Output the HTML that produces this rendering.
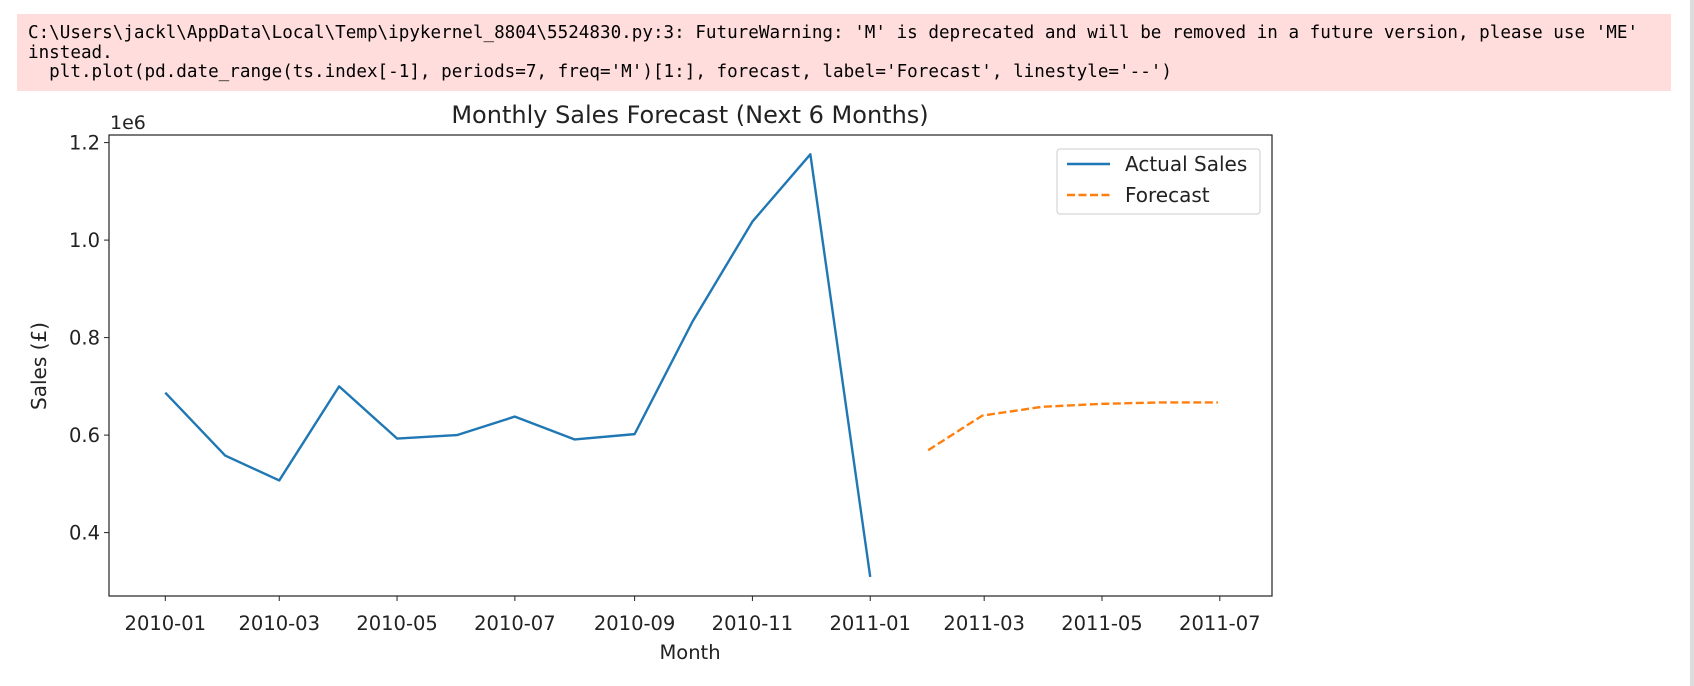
<!DOCTYPE html>
<html><head><meta charset="utf-8"><style>
body{margin:0;background:#fff;width:1694px;height:686px;overflow:hidden;position:relative;font-family:"DejaVu Sans","Liberation Sans",sans-serif}
#warn{position:absolute;left:17px;top:14px;width:1654px;height:77px;background:#fdd;font-family:"DejaVu Sans Mono","Liberation Mono",monospace;font-size:17.6px;line-height:19.5px;color:#000;padding:10px 11px 0 11px;box-sizing:border-box;white-space:pre;overflow:hidden}
#sb{position:absolute;left:1690px;top:0;width:4px;height:686px;background:#ddd}
svg{position:absolute;left:0;top:0}
</style></head><body>
<div id="warn">C:\Users\jackl\AppData\Local\Temp\ipykernel_8804\5524830.py:3: FutureWarning: 'M' is deprecated and will be removed in a future version, please use 'ME'
instead.
  plt.plot(pd.date_range(ts.index[-1], periods=7, freq='M')[1:], forecast, label='Forecast', linestyle='--')</div>
<div id="sb"></div>
<svg id="chart" width="1694" height="686"></svg>
<script>
const actualDates=["2010-01-01","2010-02-01","2010-03-01","2010-04-01","2010-05-01","2010-06-01","2010-07-01","2010-08-01","2010-09-01","2010-10-01","2010-11-01","2010-12-01","2011-01-01"];
const actualValues=[0.687,0.558,0.507,0.700,0.593,0.600,0.638,0.591,0.602,0.833,1.038,1.176,0.309];
const forecastDates=["2011-01-31","2011-02-28","2011-03-31","2011-04-30","2011-05-31","2011-06-30"];
const forecastValues=[0.569,0.640,0.658,0.664,0.667,0.667];
const yTicks=[0.4,0.6,0.8,1.0,1.2];
const xTicks=["2010-01","2010-03","2010-05","2010-07","2010-09","2010-11","2011-01","2011-03","2011-05","2011-07"];

const NS="http://www.w3.org/2000/svg";
const svg=document.getElementById('chart');
const L=109,R=1272,T=135,B=596;
const d0=Date.UTC(2010,0,1),d1=Date.UTC(2011,6,1);
function day(s){const p=s.split('-');return Date.UTC(+p[0],+p[1]-1,p[2]?+p[2]:1);}
function xs(s){return 165.3+(day(s)-d0)/(d1-d0)*(1219.8-165.3);}
function ys(v){return 142.6+(1.2-v)/0.2*97.5;}
function el(t,a,txt){const e=document.createElementNS(NS,t);for(const k in a)e.setAttribute(k,a[k]);if(txt!=null)e.textContent=txt;svg.appendChild(e);return e;}

let e=el('text',{x:690,y:123,'text-anchor':'middle','font-size':24,fill:'#222'},'Monthly Sales Forecast (Next 6 Months)');


e=el('text',{x:110,y:129,'font-size':19,fill:'#222'},'1e6');



yTicks.forEach(v=>{const y=ys(v);
 let t=el('line',{x1:L-5,x2:L,y1:y,y2:y,stroke:'#222','stroke-width':1});
 
 
 let l=el('text',{x:L-9,y:y+7,'text-anchor':'end','font-size':19.5,fill:'#222'},v.toFixed(1));
 
 
});
xTicks.forEach(s=>{const x=xs(s);
 let t=el('line',{x1:x,x2:x,y1:B,y2:B+5,stroke:'#222','stroke-width':1});
 
 
 let l=el('text',{x:x,y:630,'text-anchor':'middle','font-size':19.5,fill:'#222'},s);
 
 
});
e=el('text',{x:690,y:659,'text-anchor':'middle','font-size':19.5,fill:'#222'},'Month');


e=el('text',{x:0,y:0,'text-anchor':'middle','font-size':20,fill:'#222',transform:'translate(46,366) rotate(-90)'},'Sales (£)');



e=el('polyline',{points:actualDates.map((d,i)=>xs(d)+','+ys(actualValues[i])).join(' '),fill:'none',stroke:'#1f77b4','stroke-width':2.4,'stroke-linejoin':'round'});


e=el('polyline',{points:forecastDates.map((d,i)=>xs(d)+','+ys(forecastValues[i])).join(' '),fill:'none',stroke:'#ff7f0e','stroke-width':2.4,'stroke-dasharray':'8,3.5'});



e=el('rect',{x:L,y:T,width:R-L,height:B-T,fill:'none',stroke:'#222','stroke-width':1.2});



e=el('rect',{x:1057,y:149,width:203,height:65,rx:3,fill:'#fff',stroke:'#ccc','stroke-width':1});


e=el('line',{x1:1067,x2:1110,y1:164,y2:164,stroke:'#1f77b4','stroke-width':2.4});


e=el('text',{x:1125,y:171,'font-size':20,fill:'#222'},'Actual Sales');


e=el('line',{x1:1067,x2:1110,y1:195,y2:195,stroke:'#ff7f0e','stroke-width':2.4,'stroke-dasharray':'8,3.5'});


e=el('text',{x:1125,y:202,'font-size':20,fill:'#222'},'Forecast');


</script>
</body></html>
